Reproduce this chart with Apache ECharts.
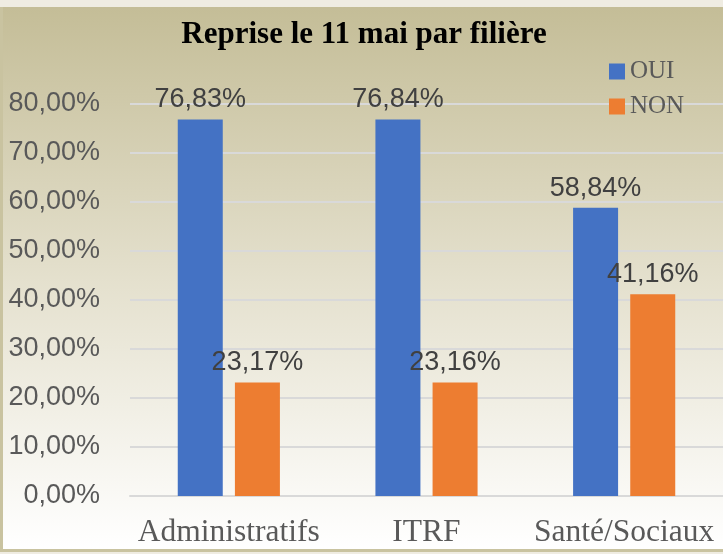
<!DOCTYPE html>
<html>
<head>
<meta charset="utf-8">
<script src="https://cdn.jsdelivr.net/npm/echarts@6/dist/echarts.min.js"></script>
<style>
  html, body { margin: 0; padding: 0; background: #efece2; }
  #chart {
    position: absolute; left: 0; top: 7px; width: 723px; height: 545px;
    box-sizing: border-box;
    border-left: 3px solid #c9c3a0; border-bottom: 3px solid #c9c3a0;
  }
</style>
</head>
<body>
<div id="chart"></div>
<script>
// données
const filieres = ['Administratifs', 'ITRF', 'Santé/Sociaux'];
const oui = [76.83, 76.84, 58.84];
const non = [23.17, 23.16, 41.16];
const titre = 'Reprise le 11 mai par filière';

const pct = v => v.toFixed(2).replace('.', ',') + '%';
const sans = '"Liberation Sans", Arial, sans-serif';
const serif = '"Liberation Serif", "Times New Roman", serif';

const labelStyle = {
  show: true,
  position: 'top',
  distance: 6,
  color: '#404040',
  fontSize: 27,
  fontFamily: sans,
  formatter: p => pct(p.value),
};

const myChart = echarts.init(document.getElementById('chart'));
myChart.setOption({
  backgroundColor: new echarts.graphic.LinearGradient(0, 0, 0, 1, [
    { offset: 0, color: '#c4bd97' },
    { offset: 0.5, color: '#e4e0cd' },
    { offset: 1, color: '#ffffff' },
  ]),
  animation: false,
  title: {
    text: titre,
    left: 356,
    top: 7,
    textAlign: 'center',
    textStyle: { fontFamily: serif, fontWeight: 'bold', fontSize: 31, color: '#000' },
  },
  legend: {
    orient: 'vertical',
    left: 601,
    top: 47,
    itemWidth: 16,
    itemHeight: 16,
    itemGap: 10,
    icon: 'rect',
    textStyle: { fontFamily: serif, fontSize: 25, color: '#595959', padding: [0, 0, 0, 0] },
    data: ['OUI', 'NON'],
  },
  grid: { left: 127, right: -4, top: 97, bottom: 53 },
  xAxis: {
    type: 'category',
    data: filieres,
    axisTick: { show: false },
    axisLine: { lineStyle: { color: '#d9d9d9', width: 2 } },
    axisLabel: {
      interval: 0, hideOverlap: false, margin: 21,
      fontFamily: serif, fontSize: 31.5, color: '#595959',
    },
  },
  yAxis: {
    type: 'value',
    min: 0,
    max: 80,
    interval: 10,
    axisLabel: { margin: 30, fontFamily: sans, fontSize: 27, color: '#595959', formatter: v => pct(v) },
    splitLine: { lineStyle: { color: '#d9d9d9', width: 2 } },
  },
  series: [
    {
      name: 'OUI', type: 'bar', data: oui, barWidth: 45, barGap: '27%',
      itemStyle: { color: '#4472c4' }, label: labelStyle,
    },
    {
      name: 'NON', type: 'bar', data: non, barWidth: 45,
      itemStyle: { color: '#ed7d31' }, label: labelStyle,
    },
  ],
});
</script>
</body>
</html>
